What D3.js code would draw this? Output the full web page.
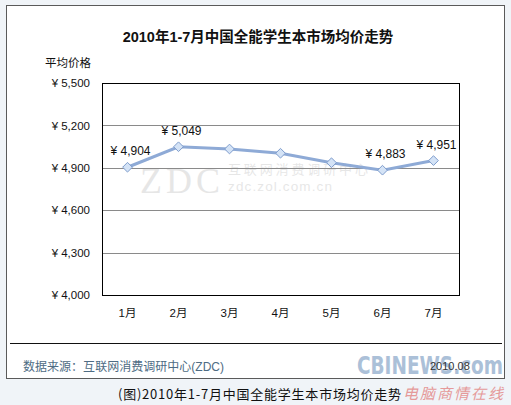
<!DOCTYPE html>
<html><head><meta charset="utf-8">
<script src="https://cdn.jsdelivr.net/npm/d3@7"></script>
<style>
html,body{margin:0;padding:0;background:#f0f4f8;}
svg{display:block;}
</style></head><body>
<script>
const months = ["1月","2月","3月","4月","5月","6月","7月"];
const prices = [4904, 5049, 5033, 5003, 4936, 4883, 4951];
const labelShown = [true, true, false, false, false, true, true];
const yTicks = [4000, 4300, 4600, 4900, 5200, 5500];
const title = "2010年1-7月中国全能学生本市场均价走势";
const caption = "(图)2010年1-7月中国全能学生本市场均价走势";

const W = 511, H = 405;
const svg = d3.select("body").append("svg").attr("width", W).attr("height", H);
const font = "Arial, 'Liberation Sans', 'Noto Sans CJK SC', sans-serif";

svg.append("rect").attr("width", W).attr("height", H).attr("fill", "#f0f4f8");
svg.append("rect").attr("x", 6.5).attr("y", 5.5).attr("width", 498).attr("height", 373)
  .attr("fill", "#fff").attr("stroke", "#5a5a5a");

svg.append("text").attr("x", 258).attr("y", 42).attr("text-anchor", "middle")
  .attr("font-family", font).attr("font-weight", "bold").attr("font-size", 14.5).attr("fill", "#111").text(title);

svg.append("text").attr("x", 45).attr("y", 67).attr("font-family", font).attr("font-size", 11.5).attr("fill", "#111").text("平均价格");

const x = d3.scaleBand().domain(months).range([102, 459]);
const y = d3.scaleLinear().domain([4000, 5500]).range([295, 83]);

// ZDC watermark
const wm = svg.append("g").attr("opacity", 0.2).attr("fill", "#888");
wm.append("text").attr("x", 140).attr("y", 193).attr("font-size", 36).attr("font-family", "'Liberation Serif', serif").attr("textLength", 80).text("ZDC");
wm.append("text").attr("x", 228).attr("y", 174).attr("font-size", 13).attr("font-family", "'Noto Sans CJK SC', sans-serif").attr("textLength", 140).text("互联网消费调研中心");
wm.append("text").attr("x", 228).attr("y", 191).attr("font-size", 13.5).attr("font-family", "Arial, sans-serif").attr("textLength", 104).text("zdc.zol.com.cn");

// gridlines
svg.append("g").selectAll("line").data(yTicks.slice(1, -1)).join("line")
  .attr("x1", 102).attr("x2", 459).attr("y1", d => Math.round(y(d)) + 0.5).attr("y2", d => Math.round(y(d)) + 0.5)
  .attr("stroke", "#8a8a8a").attr("stroke-width", 1);

svg.append("rect").attr("x", 102.5).attr("y", 83.5).attr("width", 357).attr("height", 212)
  .attr("fill", "none").attr("stroke", "#000");

// y axis
const yAxis = svg.append("g").attr("transform", "translate(102,0)")
  .call(d3.axisLeft(y).tickValues(yTicks).tickSize(0).tickPadding(12).tickFormat(d => "¥ " + d3.format(",")(d)));
yAxis.select(".domain").remove();
yAxis.selectAll("text").attr("font-family", font).attr("font-size", 11.5).attr("fill", "#111");

// x axis
const xAxis = svg.append("g").attr("transform", "translate(0,295)")
  .call(d3.axisBottom(x).tickSize(0).tickPadding(14));
xAxis.select(".domain").remove();
xAxis.selectAll("text").attr("font-family", font).attr("font-size", 11.5).attr("fill", "#111");

const pts = months.map((m, i) => ({m, v: prices[i], show: labelShown[i]}));
const cx = d => x(d.m) + x.bandwidth() / 2;

svg.append("path").datum(pts)
  .attr("d", d3.line().x(cx).y(d => y(d.v)))
  .attr("fill", "none").attr("stroke", "#8eaad6").attr("stroke-width", 3);

svg.append("g").selectAll("path").data(pts).join("path")
  .attr("transform", d => `translate(${cx(d)},${y(d.v)})`)
  .attr("d", d3.symbol(d3.symbolDiamond2, 60))
  .attr("fill", "#d4e3f6").attr("stroke", "#7e9ccc").attr("stroke-width", 1);

svg.append("g").selectAll("text").data(pts.filter(d => d.show)).join("text")
  .attr("x", d => cx(d) + 3).attr("y", d => y(d.v) - 12)
  .attr("text-anchor", "middle").attr("font-family", font).attr("font-size", 12).attr("fill", "#111")
  .text(d => "¥ " + d3.format(",")(d.v));

// footer
svg.append("line").attr("x1", 10).attr("x2", 502).attr("y1", 343.5).attr("y2", 343.5).attr("stroke", "#111");
svg.append("text").attr("x", 23).attr("y", 371).attr("font-family", font).attr("font-size", 12).attr("fill", "#4e6c84")
  .attr("textLength", 201).text("数据来源：互联网消费调研中心(ZDC)");

// CBINEWS watermark
svg.append("text").attr("x", 357).attr("y", 374).attr("font-family", "'DejaVu Sans Condensed', 'DejaVu Sans', sans-serif")
  .attr("font-weight", "bold").attr("font-size", 24).attr("fill", "#88a6c8").attr("opacity", 0.7)
  .attr("textLength", 146).attr("lengthAdjust", "spacingAndGlyphs").text("CBINEWS.com");
svg.append("text").attr("x", 430).attr("y", 370).attr("font-family", font).attr("font-size", 11).attr("fill", "#333").text("2010.08");

svg.append("text").attr("x", 118).attr("y", 399).attr("font-family", "'Noto Sans CJK SC', sans-serif").attr("font-size", 13).attr("fill", "#111")
  .attr("textLength", 283).text(caption);
svg.append("text").attr("x", 403).attr("y", 399).attr("font-family", "'Noto Sans CJK SC', serif").attr("font-style", "italic").attr("font-size", 15).attr("fill", "#e59a9a")
  .attr("textLength", 100).text("电脑商情在线");
</script>
</body></html>
